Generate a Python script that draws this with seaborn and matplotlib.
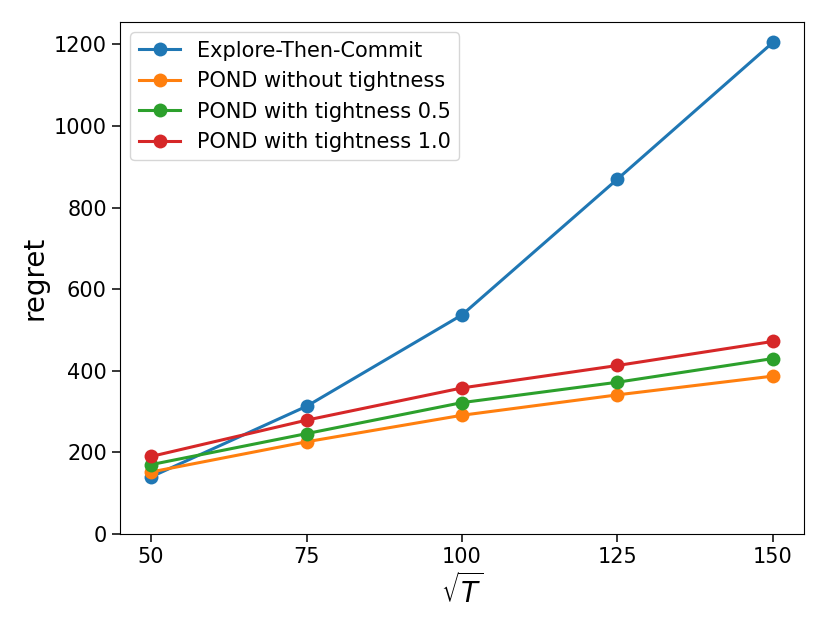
import matplotlib
matplotlib.use("Agg")
import matplotlib.pyplot as plt
import seaborn as sns
import pandas as pd

sqrt_T = [50, 75, 100, 125, 150]
etc = [140, 313, 537, 870, 1205]
pond_none = [152, 226, 291, 341, 387]
pond_05 = [170, 246, 322, 372, 430]
pond_10 = [190, 279, 358, 413, 472]
labels = ["Explore-Then-Commit", "POND without tightness",
          "POND with tightness 0.5", "POND with tightness 1.0"]
series = [etc, pond_none, pond_05, pond_10]

rows = []
for lab, vals in zip(labels, series):
    for x, v in zip(sqrt_T, vals):
        rows.append({"sqrtT": x, "regret": v, "method": lab})
df = pd.DataFrame(rows)

plt.rcParams.update(plt.rcParamsDefault)
fig, ax = plt.subplots(figsize=(8.3, 6.23), dpi=100)
fig.subplots_adjust(left=0.1446, right=0.9687, top=0.9647, bottom=0.1429)

sns.lineplot(data=df, x="sqrtT", y="regret", hue="method", hue_order=labels,
             palette=["#1f77b4", "#ff7f0e", "#2ca02c", "#d62728"],
             marker="o", markersize=10, markeredgewidth=0, linewidth=2.2, ax=ax)

ax.set_xticks(sqrt_T)
ax.set_ylim(0, 1255)
ax.set_yticks([0, 200, 400, 600, 800, 1000, 1200])
ax.tick_params(labelsize=15, length=6, width=1.1)
ax.set_xlabel(r"$\sqrt{T}$", fontsize=20)
ax.set_ylabel("regret", fontsize=20)
ax.legend(title=None, fontsize=15, loc="upper left", handlelength=2.0)
fig.savefig("out.png", dpi=100)
